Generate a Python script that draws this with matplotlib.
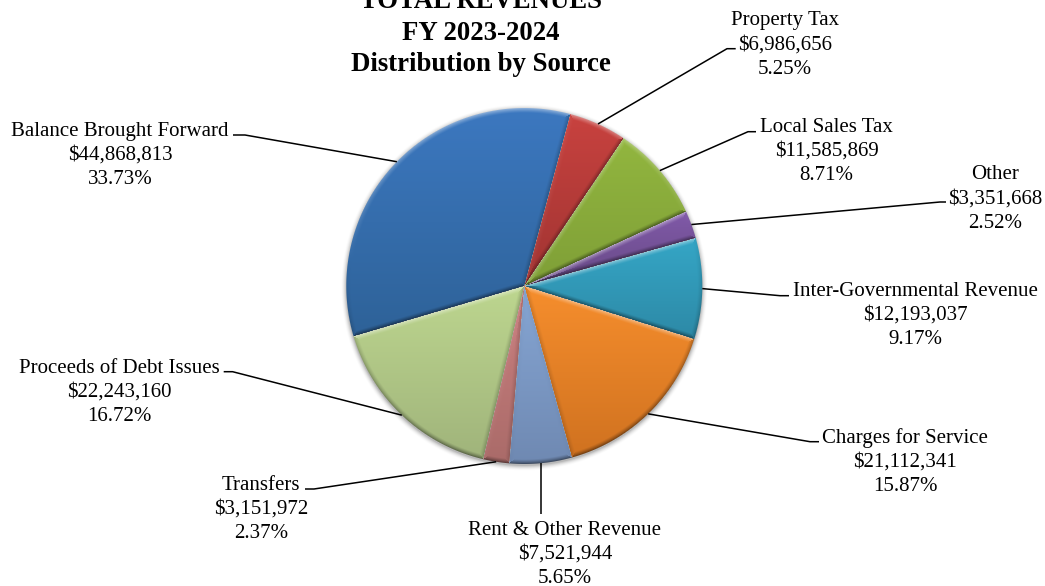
import numpy as np
import matplotlib
matplotlib.use("Agg")
import matplotlib.pyplot as plt
from matplotlib.colors import to_rgb

W, H = 1045, 586

sources = ["Property Tax", "Local Sales Tax", "Other", "Inter-Governmental Revenue",
           "Charges for Service", "Rent & Other Revenue", "Transfers",
           "Proceeds of Debt Issues", "Balance Brought Forward"]
amounts = [6986656, 11585869, 3351668, 12193037, 21112341, 7521944, 3151972, 22243160, 44868813]
percents = ["5.25%", "8.71%", "2.52%", "9.17%", "15.87%", "5.65%", "2.37%", "16.72%", "33.73%"]

top_colors = ["#c8423f", "#92b63f", "#8059a8", "#35a6c6", "#f68e2d", "#86a6d4", "#cb8080", "#bdd68f", "#3c78c0"]
bottom_colors = ["#a03432", "#7f9f37", "#674a85", "#2d89a6", "#d07220", "#6f89b2", "#aa6b69", "#a0b47b", "#2e6298"]

# layout, in picture pixels (y down)
label_xy = [(785, 45), (826.5, 151.5), (995.5, 199), (915, 315.5), (905, 462),
            (565, 554.5), (261, 509.5), (119.5, 392.5), (120, 155.5)]
elbows = [(727, 48.7), (748, 131.7), (940, 202), (780, 295.7), (810, 441.7),
          None, (314, 489), (232.6, 371.7), (245, 135)]
line_ends = [(735.7, 48.7), (756, 131.7), (946, 202), (789, 295.7), (819, 441.7),
             (540, 514), (305, 489), (223.7, 371.7), (233, 135)]
pie_cx, pie_cy, pie_r = 524.3, 286, 178
bevel = 5.0


def up(y):
    return H - y


fig = plt.figure(figsize=(W / 100, H / 100), dpi=100)
ax = fig.add_axes([0, 0, 1, 1])
plt.rcParams['font.family'] = ['Liberation Serif', 'DejaVu Serif']

wedges, _ = ax.pie(amounts, startangle=75, counterclock=False,
                   center=(pie_cx, up(pie_cy)), radius=pie_r,
                   colors=bottom_colors, frame=True)
for w in wedges:
    w.set_visible(False)

# pixel grid for the shaded slices
xs = np.arange(0, W) + 0.5
ys = np.arange(0, H) + 0.5
gx, gy = np.meshgrid(xs, ys)
dx = gx - pie_cx
dy = gy - up(pie_cy)
rr = np.hypot(dx, dy)
ang = np.degrees(np.arctan2(dy, dx)) % 360

# soft shadow round the pie
sx = np.hypot(dx, dy + 1.5)
shadow = np.zeros((H, W, 4))
shadow[..., 3] = 0.28 * np.clip(1 - (sx - pie_r) / 6, 0, 1) ** 2
ax.imshow(shadow, extent=(0, W, 0, H), origin='lower', aspect='auto', zorder=1,
          interpolation='nearest')

light = np.array([-0.1, 0.99])

for i, w in enumerate(wedges):
    t1, t2 = w.theta1, w.theta2
    a1, a2 = np.radians(t1), np.radians(t2)
    inside = ((ang - t1) % 360) <= ((t2 - t1) % 360)

    # distance to each edge of the slice, with its outward normal
    d_arc = pie_r - rr
    d_1 = dx * -np.sin(a1) + dy * np.cos(a1)
    d_2 = -(dx * -np.sin(a2) + dy * np.cos(a2))
    dists = np.stack([d_arc, d_1, d_2])
    nearest = np.argmin(dists, axis=0)
    d_min = np.min(dists, axis=0)

    nx = np.choose(nearest, [dx / np.maximum(rr, 1e-6),
                             np.full_like(dx, np.sin(a1)),
                             np.full_like(dx, -np.sin(a2))])
    ny = np.choose(nearest, [dy / np.maximum(rr, 1e-6),
                             np.full_like(dx, -np.cos(a1)),
                             np.full_like(dx, np.cos(a2))])

    # vertical gradient across the slice's own height
    yvals = gy[inside & (rr <= pie_r)]
    y0, y1 = yvals.min(), yvals.max()
    f = np.clip((y1 - gy) / max(y1 - y0, 1), 0, 1)[..., None]
    base = np.array(to_rgb(top_colors[i])) * (1 - f) + np.array(to_rgb(bottom_colors[i])) * f

    # bevel: lit where the edge faces up, dark where it faces down
    lit = nx * light[0] + ny * light[1] - 0.25
    edge = np.clip(1 - d_min / bevel, 0, 1) ** 1.3
    amt = (lit * edge)[..., None]
    rgb = np.where(amt > 0, base + (1 - base) * amt * 0.6, base * (1 + amt * 0.4))

    alpha = np.clip(d_min + 0.5, 0, 1) * inside
    rgba = np.dstack([np.clip(rgb, 0, 1), alpha])
    ax.imshow(rgba, extent=(0, W, 0, H), origin='lower', aspect='auto', zorder=2,
              interpolation='nearest')

    # leader line from the slice's outer midpoint
    mid = np.radians((t1 + t2) / 2)
    px = [pie_cx + pie_r * np.cos(mid)]
    py = [up(pie_cy) + pie_r * np.sin(mid)]
    if elbows[i] is not None:
        px.append(elbows[i][0])
        py.append(up(elbows[i][1]))
    else:
        line_ends[i] = (px[0], line_ends[i][1])
    px.append(line_ends[i][0])
    py.append(up(line_ends[i][1]))
    ax.plot(px, py, color='black', lw=1.1, zorder=3, solid_capstyle='butt')

    ax.text(label_xy[i][0], up(label_xy[i][1]),
            f"{sources[i]}\n${amounts[i]:,}\n{percents[i]}",
            ha='center', va='center', multialignment='center',
            fontsize=15, linespacing=1.36, color='black', zorder=4)

ax.text(480.5, up(33), "TOTAL REVENUES\nFY 2023-2024\nDistribution by Source",
        ha='center', va='center', multialignment='center', fontsize=19.3,
        fontweight='bold', linespacing=1.33, color='black', zorder=4)

ax.set_aspect('auto')
ax.set_xlim(0, W)
ax.set_ylim(0, H)
ax.axis('off')

fig.savefig("out.png", dpi=100, facecolor='white')
